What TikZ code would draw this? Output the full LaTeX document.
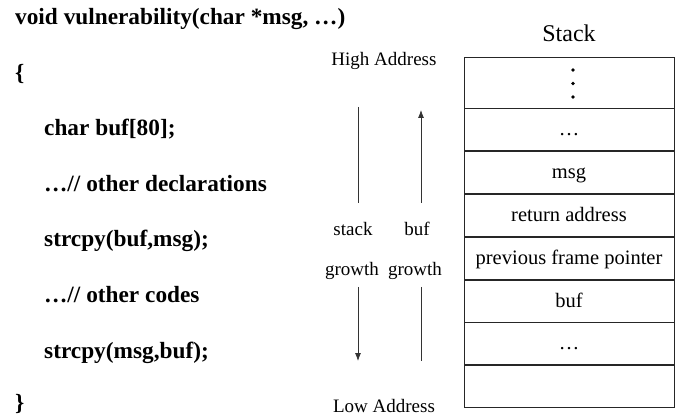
\documentclass[tikz,border=0pt]{standalone}
\usepackage{fontspec}
\setmainfont{Liberation Serif}
\usetikzlibrary{arrows.meta,positioning}
\tikzset{
 code/.style={anchor=base west, inner sep=0pt, font=\fontsize{23.3}{28}\selectfont\bfseries},
 lbl/.style={anchor=base, inner sep=0pt, font=\fontsize{19}{23}\selectfont},
 cell/.style={draw=black!85, line width=0.8pt, minimum width=210pt, minimum height=42pt, inner sep=0pt, text height=14pt, text depth=2pt, font=\fontsize{20.5}{24}\selectfont},
 flow/.style={draw=black!80, line width=0.8pt},
 tip/.style={-{Latex[length=8pt,width=6pt]}},
 dotn/.style={circle, fill=black, inner sep=0pt, minimum size=3.6pt}
}
\begin{document}
\begin{tikzpicture}[x=1pt,y=-1pt]
\useasboundingbox (0,0) rectangle (681,417);
% code
\node[code] (l1) at (15,25) {void vulnerability(char *msg, …)};
\node[code] (l2) at (15,80.5) {\{};
\node[code] (l3) at (44,136) {char buf[80];};
\node[code] (l4) at (44,191.5) {…// other declarations};
\node[code] (l5) at (44,247) {strcpy(buf,msg);};
\node[code] (l6) at (44,302.5) {…// other codes};
\node[code] (l7) at (44,358) {strcpy(msg,buf);};
\node[code] (l8) at (15,410.5) {\}};
% stack
\node[lbl, font=\fontsize{24}{28}\selectfont] (title) at (569,42) {Stack};
\node[cell, minimum height=51pt] (r1) at (569,82.5) {};
\node[cell, anchor=north] (r2) at (r1.south) {…};
\node[cell, anchor=north] (r3) at (r2.south) {msg};
\node[cell, anchor=north] (r4) at (r3.south) {return address};
\node[cell, anchor=north] (r5) at (r4.south) {previous frame pointer};
\node[cell, anchor=north] (r6) at (r5.south) {buf};
\node[cell, anchor=north] (r7) at (r6.south) {…};
\node[cell, anchor=north] (r8) at (r7.south) {};
\node[dotn] (d1) at (573,70) {};
\node[dotn] (d2) at (573,83.5) {};
\node[dotn] (d3) at (573,97) {};
% labels
\node[lbl] (high) at (384,66) {High Address};
\node[lbl] (low) at (384,412) {Low Address};
\node[lbl] (stk) at (353,236) {stack};
\node[lbl] (bf) at (417,236) {buf};
\node[lbl] (g1) at (352,276) {growth};
\node[lbl] (g2) at (415,276) {growth};
% arrows
\coordinate (a1) at (358,107);
\coordinate (a2) at (358,203);
\coordinate (a3) at (358,287);
\coordinate (a4) at (358,361);
\coordinate (b1) at (421,203);
\coordinate (b2) at (421,110);
\coordinate (b3) at (421,287);
\coordinate (b4) at (421,361);
\draw[flow] (a1) -- (a2);
\draw[flow,tip] (a3) -- (a4);
\draw[flow,tip] (b1) -- (b2);
\draw[flow] (b3) -- (b4);
\end{tikzpicture}
\end{document}
